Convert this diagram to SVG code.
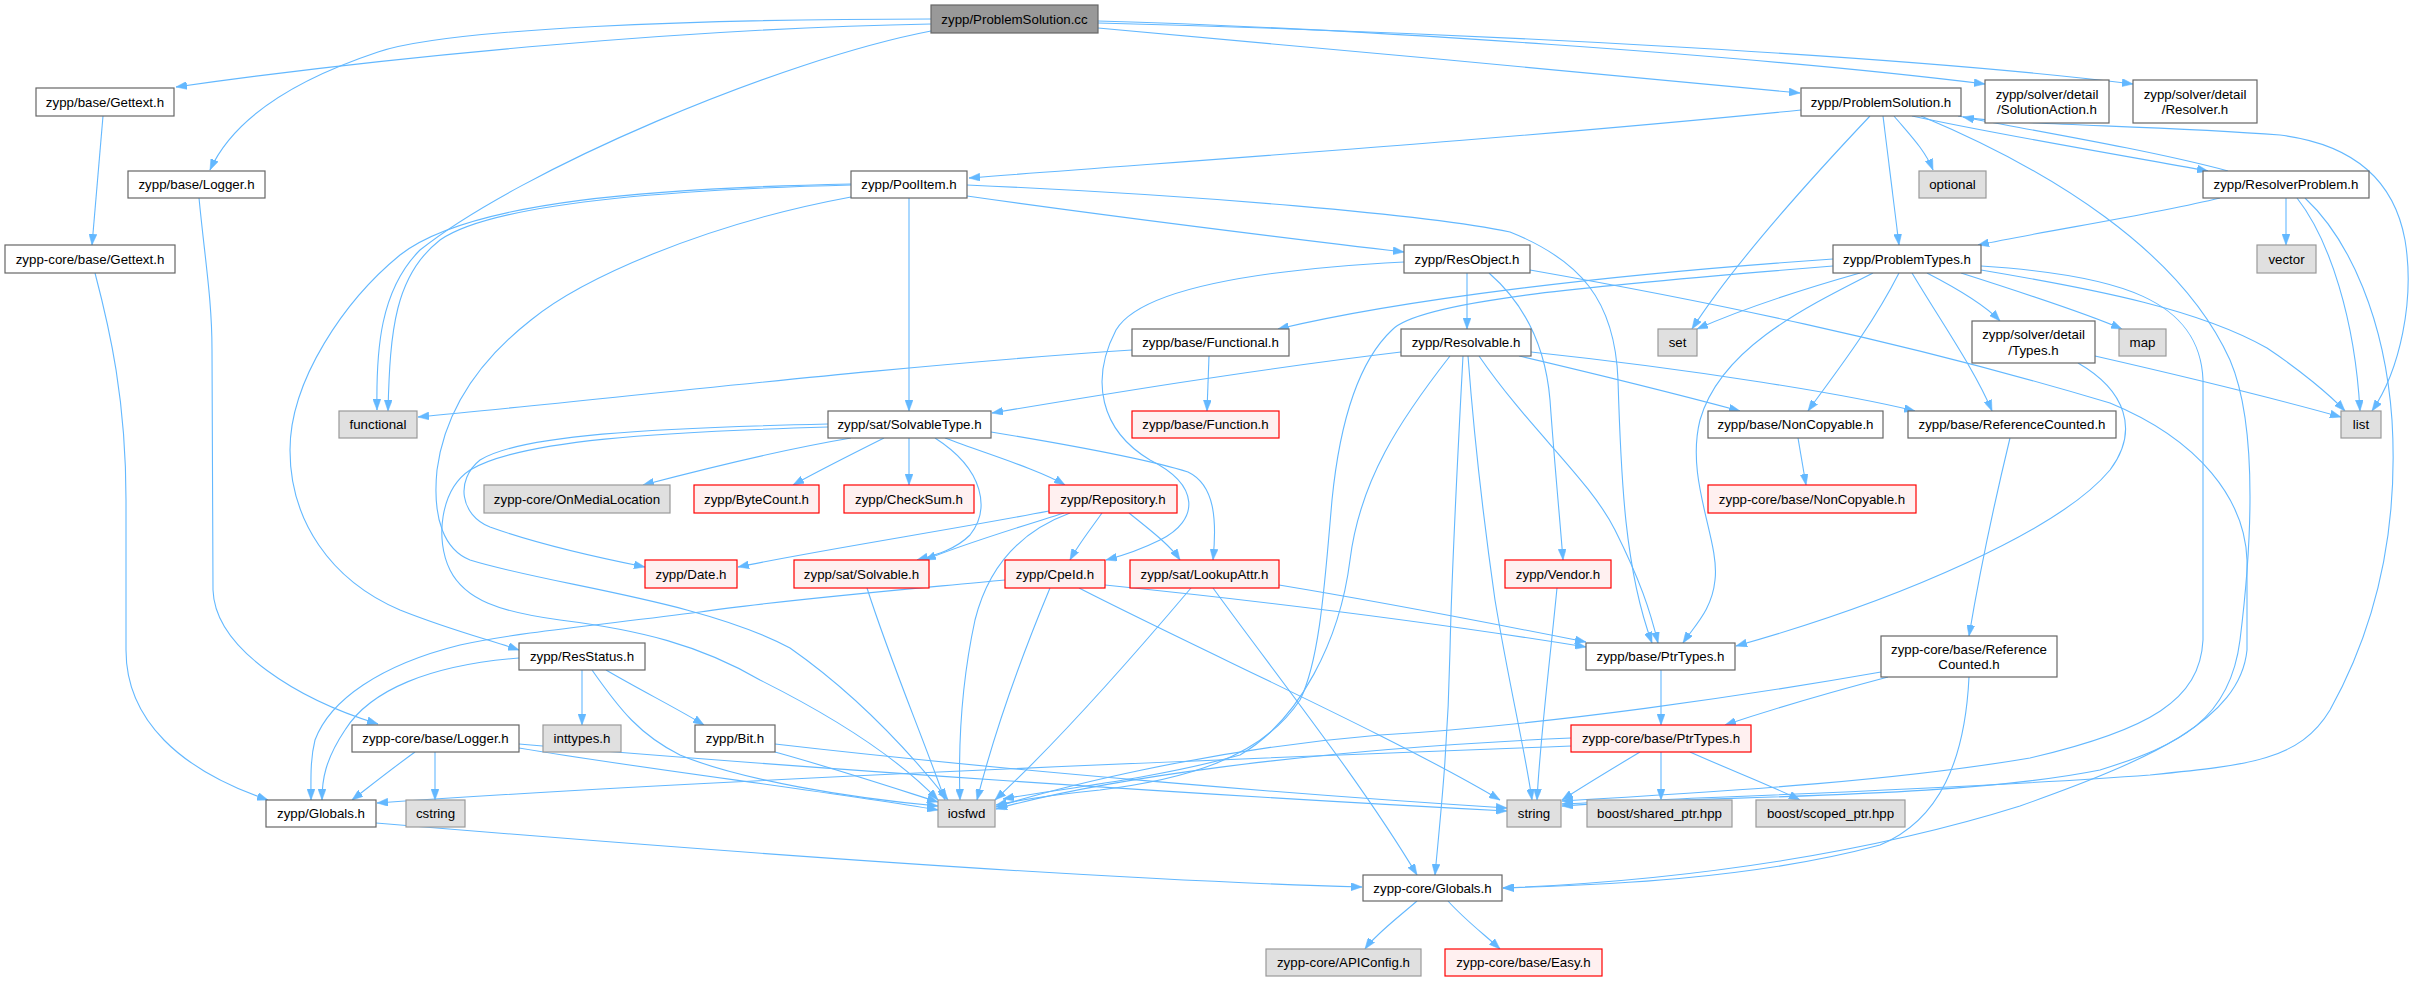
<svg xmlns="http://www.w3.org/2000/svg" width="2415" height="981" viewBox="0 0 2415 981">
<style>
.e{fill:none;stroke:#63b8ff;stroke-width:1.1;marker-end:url(#ah)}
rect{stroke-width:1.2}
.n rect{fill:#ffffff;stroke:#666666}
.g rect{fill:#e0e0e0;stroke:#999999}
.r rect{fill:#fff0f0;stroke:#ff0000}
.root rect{fill:#999999;stroke:#666666}
text{font-family:"Liberation Sans",Arial,Helvetica,sans-serif;font-size:13.3px;fill:#000000;text-anchor:middle}
</style>
<defs>
<marker id="ah" viewBox="0 0 11 8" refX="11" refY="4" markerWidth="11" markerHeight="8" markerUnits="userSpaceOnUse" orient="auto">
<path d="M0,0 L11,4 L0,8 z" fill="#63b8ff" stroke="#63b8ff" stroke-width="0.5"/>
</marker>
</defs>
<rect width="2415" height="981" fill="#ffffff" stroke="none"/>
<g id="edges">
<path class="e" d="M931,24 C700,28 400,55 176,87"/>
<path class="e" d="M931,19 C700,19 450,28 378,52 C300,78 235,115 210,170"/>
<path class="e" d="M931,31 C780,60 520,170 420,250 C380,290 376,350 377,410"/>
<path class="e" d="M1098,28 C1300,45 1600,75 1800,93"/>
<path class="e" d="M1098,21 C1350,28 1750,55 1985,84"/>
<path class="e" d="M1098,23 C1450,32 1900,55 2133,84"/>
<path class="e" d="M103,116 L92,245"/>
<path class="e" d="M95,273 C110,330 126,400 126,500 L126,650 C126,720 180,770 268,800"/>
<path class="e" d="M199,198 C205,260 212,300 212,350 L213,590 C215,650 300,700 378,724"/>
<path class="e" d="M1801,110 C1500,140 1200,160 969,178"/>
<path class="e" d="M1894,116 C1910,135 1925,150 1933,170"/>
<path class="e" d="M1870,116 C1800,190 1730,270 1692,329"/>
<path class="e" d="M1883,116 L1899,245"/>
<path class="e" d="M1921,116 C2050,170 2180,250 2230,360 C2260,430 2250,560 2240,640 C2230,720 2180,745 2100,770 C1950,800 1700,795 1562,806"/>
<path class="e" d="M1912,116 C2000,135 2120,155 2208,171"/>
<path class="e" d="M1958,116 C2000,125 2150,125 2280,135 C2360,145 2395,185 2405,240 C2415,300 2400,370 2372,411"/>
<path class="e" d="M2228,171 C2150,150 2030,130 1963,117"/>
<path class="e" d="M2220,198 C2150,215 2050,230 1978,245"/>
<path class="e" d="M2286,198 L2286,245"/>
<path class="e" d="M2297,198 C2330,240 2355,320 2360,411"/>
<path class="e" d="M2305,198 C2350,240 2385,320 2392,420 C2398,520 2380,620 2330,710 C2300,760 2250,765 2150,775 C1950,790 1700,797 1562,804"/>
<path class="e" d="M851,185 C650,190 490,205 440,240 C395,275 390,330 388,411"/>
<path class="e" d="M851,184 C660,188 470,200 400,255 C345,300 290,380 290,450 C290,520 330,580 400,610 C450,630 490,640 519,650"/>
<path class="e" d="M851,197 C700,225 580,280 531,320 C480,360 445,410 437,470 C432,520 445,550 470,560 C550,585 700,600 790,648 C850,690 900,740 948,800"/>
<path class="e" d="M909,198 L909,411"/>
<path class="e" d="M967,196 C1100,215 1300,240 1404,252"/>
<path class="e" d="M967,185 C1200,195 1430,215 1510,232 C1580,260 1615,300 1618,380 C1621,480 1625,570 1652,643"/>
<path class="e" d="M1467,273 L1467,329"/>
<path class="e" d="M1404,262 C1250,270 1140,290 1116,330 C1090,380 1100,430 1150,460 C1200,485 1200,520 1160,540 C1140,550 1125,555 1106,560"/>
<path class="e" d="M1489,273 C1520,300 1545,340 1550,400 C1555,470 1560,520 1563,560"/>
<path class="e" d="M1530,270 C1700,300 1900,340 2110,403 C2200,440 2245,500 2247,560 L2247,650 C2240,720 2150,760 2020,806 C1880,850 1700,880 1503,888"/>
<path class="e" d="M1833,259 C1600,275 1400,300 1278,329"/>
<path class="e" d="M1833,266 C1600,285 1420,300 1392,330 C1360,360 1340,420 1332,500 C1325,580 1320,660 1300,700 C1260,760 1180,780 1100,790 C1050,795 1020,800 996,805"/>
<path class="e" d="M1860,273 C1800,290 1740,310 1697,329"/>
<path class="e" d="M1899,273 C1870,330 1830,380 1808,411"/>
<path class="e" d="M1912,273 C1940,320 1975,370 1992,411"/>
<path class="e" d="M1873,273 C1800,310 1720,350 1700,420 C1685,480 1720,540 1715,580 C1712,610 1695,625 1683,643"/>
<path class="e" d="M1927,273 C1960,290 1985,305 2000,321"/>
<path class="e" d="M1961,273 C2030,295 2090,315 2122,329"/>
<path class="e" d="M1981,270 C2100,290 2200,310 2267,348 C2300,370 2330,395 2345,411"/>
<path class="e" d="M1981,266 C2120,275 2200,300 2203,380 L2203,640 C2200,700 2150,730 2030,758 C1900,780 1750,790 1562,801"/>
<path class="e" d="M2095,356 C2200,380 2280,400 2341,417"/>
<path class="e" d="M2078,363 C2125,390 2140,430 2110,470 C2060,530 1900,600 1736,646"/>
<path class="e" d="M1132,350 C900,365 600,400 418,417"/>
<path class="e" d="M1209,356 L1207,411"/>
<path class="e" d="M1401,352 C1250,370 1100,395 992,413"/>
<path class="e" d="M1519,356 C1600,375 1680,395 1740,411"/>
<path class="e" d="M1531,352 C1700,370 1850,395 1915,411"/>
<path class="e" d="M1479,356 C1530,430 1590,480 1615,530 C1640,580 1650,610 1658,643"/>
<path class="e" d="M1450,356 C1400,420 1360,480 1350,560 C1340,640 1300,720 1240,755 C1150,780 1050,790 1003,799"/>
<path class="e" d="M1468,356 C1475,450 1485,530 1495,600 C1510,690 1525,750 1532,800"/>
<path class="e" d="M1463,356 C1458,450 1452,560 1450,650 C1448,750 1440,820 1435,875"/>
<path class="e" d="M851,438 C780,450 700,470 643,485"/>
<path class="e" d="M884,438 C850,455 820,470 793,485"/>
<path class="e" d="M909,438 L909,485"/>
<path class="e" d="M945,438 C990,455 1040,470 1065,485"/>
<path class="e" d="M935,438 C985,470 990,510 970,535 C955,550 935,555 917,560"/>
<path class="e" d="M991,432 C1070,445 1150,460 1188,472 C1215,485 1217,520 1213,560"/>
<path class="e" d="M828,424 C650,428 520,435 480,460 C455,480 460,515 490,527 C540,545 600,558 645,567"/>
<path class="e" d="M828,427 C660,432 520,440 470,470 C440,490 435,540 450,570 C465,600 500,612 560,620 C640,630 700,645 760,680 C820,710 890,750 938,800"/>
<path class="e" d="M1049,511 C950,530 820,550 738,567"/>
<path class="e" d="M1064,513 C1010,530 960,545 925,560"/>
<path class="e" d="M1102,513 C1090,530 1078,545 1070,560"/>
<path class="e" d="M1129,513 C1150,530 1170,545 1180,560"/>
<path class="e" d="M1070,513 C1010,535 985,580 975,620 C962,680 958,740 960,800"/>
<path class="e" d="M867,588 C890,660 920,730 945,800"/>
<path class="e" d="M1005,580 C900,590 780,600 700,612 C600,625 520,632 460,645 C380,665 330,700 315,740 C310,760 311,780 311,800"/>
<path class="e" d="M1050,588 C1020,660 995,730 977,800"/>
<path class="e" d="M1079,588 C1200,650 1400,740 1500,800"/>
<path class="e" d="M1105,585 C1300,605 1450,625 1586,647"/>
<path class="e" d="M1191,588 C1130,660 1060,740 995,800"/>
<path class="e" d="M1279,585 C1400,605 1500,625 1586,642"/>
<path class="e" d="M1213,588 C1280,680 1360,780 1417,875"/>
<path class="e" d="M1557,588 C1550,660 1540,740 1537,800"/>
<path class="e" d="M582,670 L582,725"/>
<path class="e" d="M606,670 C640,690 680,710 704,725"/>
<path class="e" d="M592,670 C620,710 640,735 680,755 C740,780 850,798 938,806"/>
<path class="e" d="M519,658 C430,665 370,690 345,730 C325,760 322,780 322,800"/>
<path class="e" d="M775,744 C1000,770 1300,795 1507,808"/>
<path class="e" d="M775,752 C840,770 900,790 938,802"/>
<path class="e" d="M415,752 C390,770 365,790 352,800"/>
<path class="e" d="M435,752 L435,800"/>
<path class="e" d="M519,748 C650,770 820,790 938,810"/>
<path class="e" d="M519,744 C800,768 1200,795 1507,811"/>
<path class="e" d="M1661,670 L1661,725"/>
<path class="e" d="M1640,752 C1610,770 1585,785 1562,800"/>
<path class="e" d="M1661,752 L1661,800"/>
<path class="e" d="M1690,752 C1730,770 1770,785 1800,800"/>
<path class="e" d="M1571,738 C1300,750 1100,780 996,809"/>
<path class="e" d="M1571,746 C1200,760 700,780 377,803"/>
<path class="e" d="M1888,677 C1820,695 1770,710 1725,725"/>
<path class="e" d="M1881,672 C1750,695 1550,725 1380,735 C1200,750 1050,790 996,807"/>
<path class="e" d="M1969,677 C1965,760 1940,820 1880,845 C1750,880 1600,885 1503,888"/>
<path class="e" d="M2010,438 C1995,500 1980,570 1969,636"/>
<path class="e" d="M1798,438 L1806,485"/>
<path class="e" d="M376,823 C700,850 1100,880 1362,887"/>
<path class="e" d="M1417,901 C1395,920 1375,935 1365,949"/>
<path class="e" d="M1448,901 C1465,920 1485,935 1500,949"/>
</g>
<g id="n_cc" class="root"><rect x="931" y="5" width="167" height="28"/><text x="1014.5" y="23.7">zypp/ProblemSolution.cc</text></g>
<g id="n_gettext" class="n"><rect x="36" y="88" width="138" height="28"/><text x="105" y="106.7">zypp/base/Gettext.h</text></g>
<g id="n_psh" class="n"><rect x="1801" y="88" width="160" height="28"/><text x="1881" y="106.7">zypp/ProblemSolution.h</text></g>
<g id="n_sa" class="n"><rect x="1985" y="80" width="124" height="43"/><text x="2047" y="98.5">zypp/solver/detail</text><text x="2047" y="114">/SolutionAction.h</text></g>
<g id="n_res" class="n"><rect x="2133" y="80" width="124" height="43"/><text x="2195" y="98.5">zypp/solver/detail</text><text x="2195" y="114">/Resolver.h</text></g>
<g id="n_logger" class="n"><rect x="128" y="171" width="137" height="27"/><text x="196.5" y="189.2">zypp/base/Logger.h</text></g>
<g id="n_poolitem" class="n"><rect x="851" y="171" width="116" height="27"/><text x="909" y="189.2">zypp/PoolItem.h</text></g>
<g id="n_optional" class="g"><rect x="1919" y="171" width="67" height="27"/><text x="1952.5" y="189.2">optional</text></g>
<g id="n_rp" class="n"><rect x="2203" y="171" width="166" height="27"/><text x="2286" y="189.2">zypp/ResolverProblem.h</text></g>
<g id="n_coregettext" class="n"><rect x="5" y="245" width="170" height="28"/><text x="90" y="263.7">zypp-core/base/Gettext.h</text></g>
<g id="n_resobject" class="n"><rect x="1404" y="245" width="126" height="28"/><text x="1467" y="263.7">zypp/ResObject.h</text></g>
<g id="n_pt" class="n"><rect x="1833" y="245" width="148" height="28"/><text x="1907" y="263.7">zypp/ProblemTypes.h</text></g>
<g id="n_vector" class="g"><rect x="2257" y="245" width="59" height="28"/><text x="2286.5" y="263.7">vector</text></g>
<g id="n_functionalh" class="n"><rect x="1132" y="329" width="157" height="27"/><text x="1210.5" y="347.2">zypp/base/Functional.h</text></g>
<g id="n_resolvable" class="n"><rect x="1401" y="329" width="130" height="27"/><text x="1466" y="347.2">zypp/Resolvable.h</text></g>
<g id="n_set" class="g"><rect x="1658" y="329" width="39" height="27"/><text x="1677.5" y="347.2">set</text></g>
<g id="n_types" class="n"><rect x="1972" y="321" width="123" height="42"/><text x="2033.5" y="338.5">zypp/solver/detail</text><text x="2033.5" y="354.5">/Types.h</text></g>
<g id="n_map" class="g"><rect x="2119" y="329" width="47" height="27"/><text x="2142.5" y="347.2">map</text></g>
<g id="n_functional" class="g"><rect x="339" y="411" width="78" height="27"/><text x="378" y="429.2">functional</text></g>
<g id="n_solvabletype" class="n"><rect x="828" y="411" width="163" height="27"/><text x="909.5" y="429.2">zypp/sat/SolvableType.h</text></g>
<g id="n_function" class="r"><rect x="1132" y="411" width="147" height="27"/><text x="1205.5" y="429.2">zypp/base/Function.h</text></g>
<g id="n_noncopyable" class="n"><rect x="1708" y="411" width="175" height="27"/><text x="1795.5" y="429.2">zypp/base/NonCopyable.h</text></g>
<g id="n_refcounted" class="n"><rect x="1908" y="411" width="208" height="27"/><text x="2012" y="429.2">zypp/base/ReferenceCounted.h</text></g>
<g id="n_list" class="g"><rect x="2341" y="411" width="40" height="27"/><text x="2361" y="429.2">list</text></g>
<g id="n_oml" class="g"><rect x="484" y="485" width="186" height="28"/><text x="577" y="503.7">zypp-core/OnMediaLocation</text></g>
<g id="n_bytecount" class="r"><rect x="694" y="485" width="125" height="28"/><text x="756.5" y="503.7">zypp/ByteCount.h</text></g>
<g id="n_checksum" class="r"><rect x="844" y="485" width="130" height="28"/><text x="909" y="503.7">zypp/CheckSum.h</text></g>
<g id="n_repository" class="r"><rect x="1049" y="485" width="128" height="28"/><text x="1113" y="503.7">zypp/Repository.h</text></g>
<g id="n_corenoncopyable" class="r"><rect x="1708" y="485" width="208" height="28"/><text x="1812" y="503.7">zypp-core/base/NonCopyable.h</text></g>
<g id="n_date" class="r"><rect x="645" y="560" width="92" height="28"/><text x="691" y="578.7">zypp/Date.h</text></g>
<g id="n_solvable" class="r"><rect x="794" y="560" width="135" height="28"/><text x="861.5" y="578.7">zypp/sat/Solvable.h</text></g>
<g id="n_cpeid" class="r"><rect x="1005" y="560" width="100" height="28"/><text x="1055" y="578.7">zypp/CpeId.h</text></g>
<g id="n_lookupattr" class="r"><rect x="1130" y="560" width="149" height="28"/><text x="1204.5" y="578.7">zypp/sat/LookupAttr.h</text></g>
<g id="n_vendor" class="r"><rect x="1505" y="560" width="106" height="28"/><text x="1558" y="578.7">zypp/Vendor.h</text></g>
<g id="n_resstatus" class="n"><rect x="519" y="643" width="126" height="27"/><text x="582" y="661.2">zypp/ResStatus.h</text></g>
<g id="n_ptrtypes" class="n"><rect x="1586" y="643" width="149" height="27"/><text x="1660.5" y="661.2">zypp/base/PtrTypes.h</text></g>
<g id="n_corerc" class="n"><rect x="1881" y="636" width="176" height="41"/><text x="1969" y="653.5">zypp-core/base/Reference</text><text x="1969" y="668.5">Counted.h</text></g>
<g id="n_corelogger" class="n"><rect x="352" y="725" width="167" height="27"/><text x="435.5" y="743.2">zypp-core/base/Logger.h</text></g>
<g id="n_inttypes" class="g"><rect x="543" y="725" width="78" height="27"/><text x="582" y="743.2">inttypes.h</text></g>
<g id="n_bit" class="n"><rect x="695" y="725" width="80" height="27"/><text x="735" y="743.2">zypp/Bit.h</text></g>
<g id="n_coreptrtypes" class="r"><rect x="1571" y="725" width="180" height="27"/><text x="1661" y="743.2">zypp-core/base/PtrTypes.h</text></g>
<g id="n_globals" class="n"><rect x="266" y="800" width="110" height="27"/><text x="321" y="818.2">zypp/Globals.h</text></g>
<g id="n_cstring" class="g"><rect x="406" y="800" width="59" height="27"/><text x="435.5" y="818.2">cstring</text></g>
<g id="n_iosfwd" class="g"><rect x="938" y="800" width="57" height="27"/><text x="966.5" y="818.2">iosfwd</text></g>
<g id="n_string" class="g"><rect x="1507" y="800" width="54" height="27"/><text x="1534" y="818.2">string</text></g>
<g id="n_shared" class="g"><rect x="1587" y="800" width="145" height="27"/><text x="1659.5" y="818.2">boost/shared_ptr.hpp</text></g>
<g id="n_scoped" class="g"><rect x="1756" y="800" width="149" height="27"/><text x="1830.5" y="818.2">boost/scoped_ptr.hpp</text></g>
<g id="n_coreglobals" class="n"><rect x="1363" y="875" width="139" height="26"/><text x="1432.5" y="892.7">zypp-core/Globals.h</text></g>
<g id="n_apiconfig" class="g"><rect x="1266" y="949" width="155" height="27"/><text x="1343.5" y="967.2">zypp-core/APIConfig.h</text></g>
<g id="n_easy" class="r"><rect x="1445" y="949" width="157" height="27"/><text x="1523.5" y="967.2">zypp-core/base/Easy.h</text></g>
</svg>
